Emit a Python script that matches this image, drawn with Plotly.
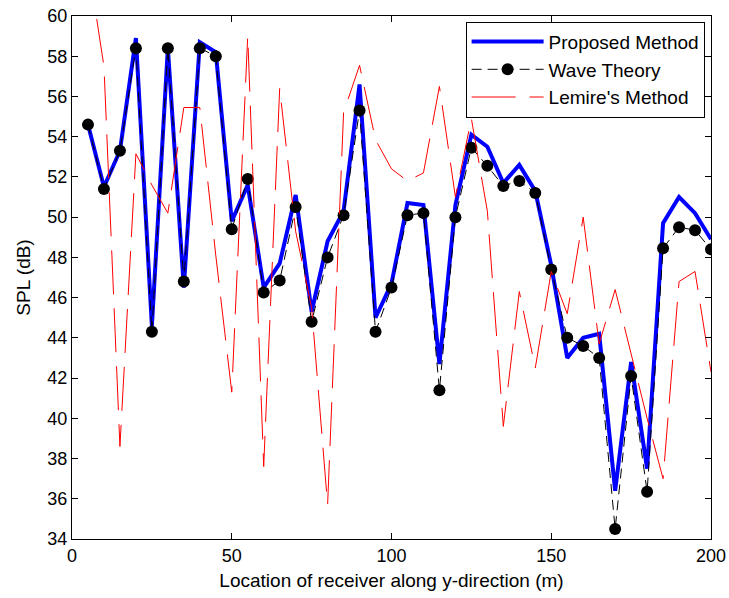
import plotly.graph_objects as go

x_pos = [5, 10, 15, 20, 25, 30, 35, 40, 45, 50,
         55, 60, 65, 70, 75, 80, 85, 90, 95, 100,
         105, 110, 115, 120, 125, 130, 135, 140, 145, 150,
         155, 160, 165, 170, 175, 180, 185, 190, 195, 200]

proposed = [54.6, 51.5, 53.3, 58.9, 44.6, 58.4, 46.5, 58.7, 58.2, 49.8,
            51.6, 46.5, 47.7, 51.1, 45.3, 48.8, 50.3, 56.6, 45.0, 46.7,
            50.7, 50.6, 42.7, 50.6, 54.1, 53.5, 51.7, 52.6, 51.3, 47.6,
            43.0, 44.0, 44.2, 36.4, 42.8, 37.5, 49.7, 51.0, 50.2, 48.9]

wave = [54.6, 51.4, 53.3, 58.4, 44.3, 58.4, 46.8, 58.4, 58.0, 49.4,
        51.9, 46.25, 46.85, 50.5, 44.8, 48.0, 50.1, 55.3, 44.3, 46.5,
        50.1, 50.2, 41.4, 50.0, 53.45, 52.55, 51.55, 51.8, 51.2, 47.4,
        44.0, 43.6, 43.0, 34.5, 42.1, 36.35, 48.45, 49.5, 49.35, 48.4]

lemire = [62.7, 57.5, 38.6, 53.15, 51.6, 50.2, 55.45, 55.45, 48.1, 41.3,
          59.0, 37.6, 56.4, 49.3, 45.5, 35.7, 55.2, 57.55, 53.85, 52.4,
          51.8, 52.2, 56.5, 51.0, 54.9, 50.3, 39.6, 46.3, 42.5, 47.3,
          45.2, 50.0, 43.7, 46.4, 43.2, 40.0, 37.0, 46.8, 47.3, 42.3]

x_ticks = [0, 50, 100, 150, 200]
y_ticks = [34, 36, 38, 40, 42, 44, 46, 48, 50, 52, 54, 56, 58, 60]

FONT = "Arial, 'Liberation Sans', sans-serif"

fig = go.Figure()
fig.add_trace(go.Scatter(
    x=x_pos, y=proposed, mode="lines", name="Proposed Method",
    line=dict(color="#0000ff", width=4)))
fig.add_trace(go.Scatter(
    x=x_pos, y=wave, mode="lines+markers", name="Wave Theory",
    line=dict(color="black", width=1, dash="10px,6px"),
    marker=dict(color="black", size=12, symbol="circle")))
fig.add_trace(go.Scatter(
    x=x_pos, y=lemire, mode="lines", name="Lemire's Method",
    line=dict(color="#ff0000", width=1, dash="44px,14px")))

axis_common = dict(
    showgrid=False, zeroline=False, showline=True, linecolor="black",
    linewidth=1, mirror="ticks", ticks="inside", ticklen=6,
    tickcolor="black", tickwidth=1,
    tickfont=dict(family=FONT, size=18, color="black"),
)

fig.update_xaxes(range=[0, 200], tickvals=x_ticks,
                 title=dict(text="Location of receiver along y-direction (m)",
                            font=dict(family=FONT, size=19, color="black"),
                            standoff=9),
                 **axis_common)
fig.update_yaxes(range=[34, 60], tickvals=y_ticks,
                 title=dict(text="SPL (dB)",
                            font=dict(family=FONT, size=19, color="black"),
                            standoff=11),
                 **axis_common)

fig.update_layout(
    width=729, height=598,
    margin=dict(l=72, r=18, t=16, b=59, autoexpand=False),
    paper_bgcolor="white", plot_bgcolor="white",
    font=dict(family=FONT, size=18, color="black"),
    showlegend=True,
    legend=dict(x=0.99, y=0.989, xanchor="right", yanchor="top",
                bgcolor="white", bordercolor="black", borderwidth=1,
                font=dict(family=FONT, size=19, color="black"),
                itemwidth=72, tracegroupgap=0),
)

fig.write_html("out.html")
